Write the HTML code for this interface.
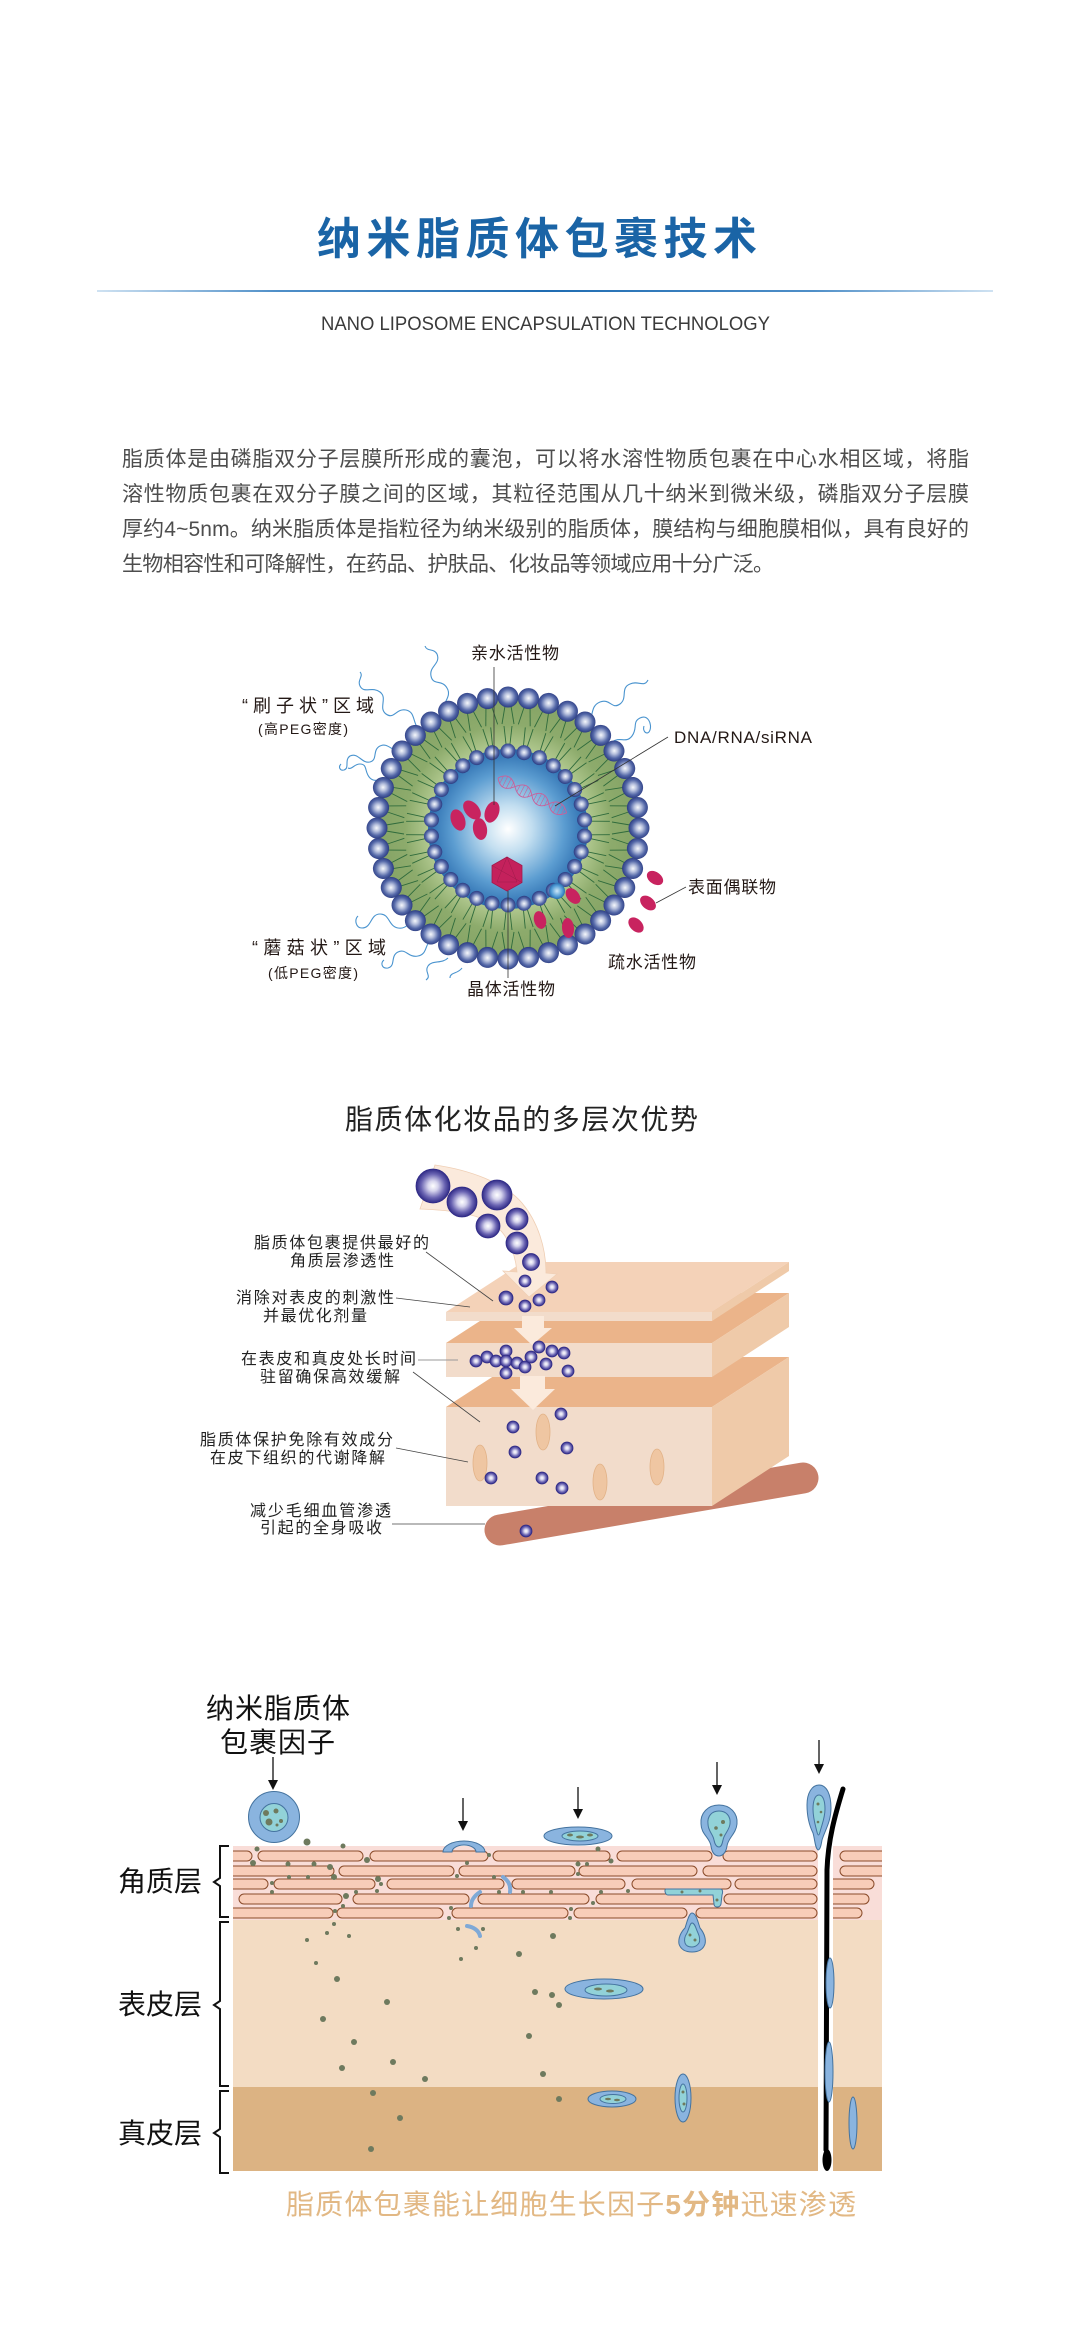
<!DOCTYPE html>
<html><head><meta charset="utf-8">
<style>
html,body{margin:0;padding:0;background:#fff;}
body{width:1080px;height:2350px;overflow:hidden;}
svg{display:block;}
text{font-family:"Liberation Sans","Noto Sans CJK SC",sans-serif;}
</style></head>
<body>
<svg width="1080" height="2350" viewBox="0 0 1080 2350" xmlns="http://www.w3.org/2000/svg">
<defs>
<linearGradient id="hl" x1="0" x2="1" y1="0" y2="0">
<stop offset="0" stop-color="#cfe2f2"/><stop offset="0.2" stop-color="#4f8fc8"/><stop offset="0.5" stop-color="#1f6cb2"/><stop offset="0.8" stop-color="#4f8fc8"/><stop offset="1" stop-color="#cfe2f2"/>
</linearGradient>
<radialGradient id="gb" cx="50%" cy="48%" r="55%"><stop offset="0" stop-color="#f6f8fc"/><stop offset="0.3" stop-color="#b6c0dd"/><stop offset="0.65" stop-color="#5468a8"/><stop offset="1" stop-color="#23337a"/></radialGradient>
<radialGradient id="gcore" cx="50%" cy="50%" r="50%"><stop offset="0" stop-color="#ffffff"/><stop offset="0.3" stop-color="#c2def0"/><stop offset="0.7" stop-color="#5c9dd1"/><stop offset="1" stop-color="#2a6cae"/></radialGradient>
<radialGradient id="ggreen" cx="50%" cy="50%" r="50%"><stop offset="0.6" stop-color="#b5cc93"/><stop offset="0.8" stop-color="#8dab6c"/><stop offset="1" stop-color="#86a466"/></radialGradient>
<radialGradient id="gp" cx="50%" cy="50%" r="50%"><stop offset="0" stop-color="#ffffff"/><stop offset="0.3" stop-color="#d6d4ed"/><stop offset="0.7" stop-color="#6a64b2"/><stop offset="1" stop-color="#2f2a86"/></radialGradient>
<radialGradient id="gsb" cx="50%" cy="50%" r="50%"><stop offset="0" stop-color="#cfe9f8"/><stop offset="0.7" stop-color="#4f9ad4"/><stop offset="1" stop-color="#2a6fae"/></radialGradient>
<g id="ob" stroke="#2f6b3c" stroke-width="0.9"><line x1="505" y1="706" x2="502" y2="724"/><line x1="511" y1="706" x2="514" y2="724"/><circle cx="508" cy="697" r="10.5" fill="url(#gb)" stroke="none"/></g>
<g id="ib" stroke="#2f6b3c" stroke-width="0.9"><line x1="506" y1="744" x2="504" y2="726"/><line x1="510" y1="744" x2="512" y2="726"/><circle cx="508" cy="751" r="7.5" fill="url(#gb)" stroke="none"/></g>
<clipPath id="skinclip"><rect x="233" y="1846" width="649" height="74"/></clipPath>
</defs>

<!-- ===== Section 1 ===== -->
<text x="317" y="254" font-size="44" font-weight="bold" fill="#1a64a6" textLength="440" lengthAdjust="spacing">纳米脂质体包裹技术</text>
<rect x="97" y="290" width="896" height="2" fill="url(#hl)"/>
<text x="321" y="330" font-size="19" fill="#3a3a3a" textLength="449" lengthAdjust="spacingAndGlyphs">NANO LIPOSOME ENCAPSULATION TECHNOLOGY</text>

<g font-size="21" fill="#4d4d4d">
<text x="122" y="466" textLength="847" lengthAdjust="spacing">脂质体是由磷脂双分子层膜所形成的囊泡，可以将水溶性物质包裹在中心水相区域，将脂</text>
<text x="122" y="501" textLength="847" lengthAdjust="spacing">溶性物质包裹在双分子膜之间的区域，其粒径范围从几十纳米到微米级，磷脂双分子层膜</text>
<text x="122" y="536" textLength="847" lengthAdjust="spacing">厚约4~5nm。纳米脂质体是指粒径为纳米级别的脂质体，膜结构与细胞膜相似，具有良好的</text>
<text x="122" y="571" textLength="652" lengthAdjust="spacing">生物相容性和可降解性，在药品、护肤品、化妆品等领域应用十分广泛。</text>
</g>

<!-- ===== Section 2 : liposome ===== -->
<g fill="none" stroke="#4a94cf" stroke-width="1.1">
<path d="M445 714 c-6 -10 8 -16 2 -26 c-5 -9 -14 -2 -16 -12 c-2 -10 10 -12 6 -22 c-3 -6 -10 -2 -12 -8"/>
<path d="M420 730 c-8 -6 -4 -18 -14 -20 c-10 -2 -12 10 -20 4 c-8 -6 2 -16 -6 -22 c-8 -6 -16 2 -20 -6 c-3 -6 4 -10 0 -14"/>
<path d="M402 752 c-10 0 -14 -10 -22 -6 c-8 4 -2 14 -10 16 c-8 2 -12 -10 -20 -6 c-6 4 0 12 -6 14 c-4 1 -6 -3 -3 -6"/>
<path d="M392 780 c-8 -4 -16 4 -22 -2 c-6 -6 -2 -14 -10 -14 c-6 0 -8 6 -12 4"/>
<path d="M588 724 c6 -8 2 -18 12 -22 c10 -4 12 8 20 2 c8 -6 0 -16 10 -20 c8 -4 14 4 18 -4"/>
<path d="M612 742 c8 -6 14 2 20 -6 c6 -8 0 -14 8 -18 c8 -4 12 6 10 12 c-2 6 -8 2 -6 -4"/>
<path d="M420 920 c-10 -2 -12 10 -22 8 c-10 -2 -8 -14 -18 -14 c-10 0 -8 14 -18 14 c-6 0 -8 -8 -4 -12"/>
<path d="M432 940 c-8 4 -4 14 -14 16 c-10 2 -12 -8 -20 -4 c-8 4 -2 14 -10 16 c-6 1 -8 -5 -4 -8"/>
<path d="M448 958 c-6 6 -16 2 -20 8 c-4 6 4 10 -2 14"/>
<path d="M462 968 c-4 6 -12 4 -12 10"/>
</g>

<circle cx="508" cy="828" r="129" fill="url(#ggreen)"/>
<circle cx="508" cy="829" r="80" fill="url(#gcore)"/>

<use href="#ib"/><use href="#ib" transform="rotate(12 508 828)"/><use href="#ib" transform="rotate(24 508 828)"/><use href="#ib" transform="rotate(36 508 828)"/><use href="#ib" transform="rotate(48 508 828)"/><use href="#ib" transform="rotate(60 508 828)"/><use href="#ib" transform="rotate(72 508 828)"/><use href="#ib" transform="rotate(84 508 828)"/><use href="#ib" transform="rotate(96 508 828)"/><use href="#ib" transform="rotate(108 508 828)"/><use href="#ib" transform="rotate(120 508 828)"/><use href="#ib" transform="rotate(132 508 828)"/><use href="#ib" transform="rotate(144 508 828)"/><use href="#ib" transform="rotate(156 508 828)"/><use href="#ib" transform="rotate(168 508 828)"/><use href="#ib" transform="rotate(180 508 828)"/><use href="#ib" transform="rotate(192 508 828)"/><use href="#ib" transform="rotate(204 508 828)"/><use href="#ib" transform="rotate(216 508 828)"/><use href="#ib" transform="rotate(228 508 828)"/><use href="#ib" transform="rotate(240 508 828)"/><use href="#ib" transform="rotate(252 508 828)"/><use href="#ib" transform="rotate(264 508 828)"/><use href="#ib" transform="rotate(276 508 828)"/><use href="#ib" transform="rotate(288 508 828)"/><use href="#ib" transform="rotate(300 508 828)"/><use href="#ib" transform="rotate(312 508 828)"/><use href="#ib" transform="rotate(324 508 828)"/><use href="#ib" transform="rotate(336 508 828)"/><use href="#ib" transform="rotate(348 508 828)"/>

<use href="#ob"/><use href="#ob" transform="rotate(9 508 828)"/><use href="#ob" transform="rotate(18 508 828)"/><use href="#ob" transform="rotate(27 508 828)"/><use href="#ob" transform="rotate(36 508 828)"/><use href="#ob" transform="rotate(45 508 828)"/><use href="#ob" transform="rotate(54 508 828)"/><use href="#ob" transform="rotate(63 508 828)"/><use href="#ob" transform="rotate(72 508 828)"/><use href="#ob" transform="rotate(81 508 828)"/><use href="#ob" transform="rotate(90 508 828)"/><use href="#ob" transform="rotate(99 508 828)"/><use href="#ob" transform="rotate(108 508 828)"/><use href="#ob" transform="rotate(117 508 828)"/><use href="#ob" transform="rotate(126 508 828)"/><use href="#ob" transform="rotate(135 508 828)"/><use href="#ob" transform="rotate(144 508 828)"/><use href="#ob" transform="rotate(153 508 828)"/><use href="#ob" transform="rotate(162 508 828)"/><use href="#ob" transform="rotate(171 508 828)"/><use href="#ob" transform="rotate(180 508 828)"/><use href="#ob" transform="rotate(189 508 828)"/><use href="#ob" transform="rotate(198 508 828)"/><use href="#ob" transform="rotate(207 508 828)"/><use href="#ob" transform="rotate(216 508 828)"/><use href="#ob" transform="rotate(225 508 828)"/><use href="#ob" transform="rotate(234 508 828)"/><use href="#ob" transform="rotate(243 508 828)"/><use href="#ob" transform="rotate(252 508 828)"/><use href="#ob" transform="rotate(261 508 828)"/><use href="#ob" transform="rotate(270 508 828)"/><use href="#ob" transform="rotate(279 508 828)"/><use href="#ob" transform="rotate(288 508 828)"/><use href="#ob" transform="rotate(297 508 828)"/><use href="#ob" transform="rotate(306 508 828)"/><use href="#ob" transform="rotate(315 508 828)"/><use href="#ob" transform="rotate(324 508 828)"/><use href="#ob" transform="rotate(333 508 828)"/><use href="#ob" transform="rotate(342 508 828)"/><use href="#ob" transform="rotate(351 508 828)"/>

<!-- DNA -->
<g transform="translate(498 778) rotate(27)" fill="none" stroke="#c9609a" stroke-width="0.9">
<path d="M0 0 C6 -8 12 -8 19 0 S32 8 38 0 S51 -8 57 0 S70 8 77 0"/>
<path d="M0 0 C6 8 12 8 19 0 S32 -8 38 0 S51 8 57 0 S70 -8 77 0"/>
<path d="M4 -4V4 M8 -6V6 M12 -6V6 M16 -4V4 M23 -4V4 M27 -6V6 M31 -6V6 M35 -4V4 M42 -4V4 M46 -6V6 M50 -6V6 M54 -4V4 M61 -4V4 M65 -6V6 M69 -6V6 M73 -4V4" stroke-width="0.6"/>
</g>
<!-- magenta -->
<g fill="#c8235f">
<ellipse cx="458" cy="820" rx="7" ry="11" transform="rotate(-20 458 820)"/>
<ellipse cx="472" cy="810" rx="7" ry="11" transform="rotate(-40 472 810)"/>
<ellipse cx="480" cy="829" rx="7" ry="11" transform="rotate(-10 480 829)"/>
<ellipse cx="492" cy="812" rx="7" ry="11" transform="rotate(20 492 812)"/>
<ellipse cx="573" cy="896" rx="6" ry="9" transform="rotate(-40 573 896)"/>
<ellipse cx="540" cy="920" rx="6" ry="9" transform="rotate(-15 540 920)"/>
<ellipse cx="568" cy="928" rx="6" ry="10" transform="rotate(-5 568 928)"/>
<ellipse cx="655" cy="878" rx="6" ry="9" transform="rotate(-55 655 878)"/>
<ellipse cx="648" cy="903" rx="6" ry="9" transform="rotate(-50 648 903)"/>
<ellipse cx="636" cy="925" rx="6" ry="9" transform="rotate(-45 636 925)"/>
</g>
<polygon points="507,857 522,865.5 522,882.5 507,891 492,882.5 492,865.5" fill="#c4215c" stroke="#a31a4c" stroke-width="0.8"/>
<path d="M507 857 L497 882 L517 882 Z M492 865.5 L522 882.5" fill="none" stroke="#8f1a45" stroke-width="0.5" opacity="0.7"/>
<circle cx="557" cy="891" r="8" fill="url(#gsb)"/>

<!-- leader lines sec2 -->
<g stroke="#333" stroke-width="0.8" fill="none">
<line x1="494" y1="667" x2="494" y2="805"/>
<line x1="668" y1="737" x2="555" y2="806"/>
<line x1="686" y1="887" x2="656" y2="903"/>
<line x1="508" y1="891" x2="508" y2="978"/>
</g>
<g fill="#231815">
<text x="471" y="659" font-size="17" textLength="88" lengthAdjust="spacing">亲水活性物</text>
<text x="242" y="712" font-size="18" textLength="132" lengthAdjust="spacing">“刷子状”区域</text>
<text x="258" y="734" font-size="14" textLength="90" lengthAdjust="spacing">(高PEG密度)</text>
<text x="674" y="743" font-size="17" textLength="138" lengthAdjust="spacing">DNA/RNA/siRNA</text>
<text x="688" y="893" font-size="17" textLength="88" lengthAdjust="spacing">表面偶联物</text>
<text x="608" y="968" font-size="17" textLength="88" lengthAdjust="spacing">疏水活性物</text>
<text x="467" y="995" font-size="17" textLength="88" lengthAdjust="spacing">晶体活性物</text>
<text x="252" y="954" font-size="18" textLength="134" lengthAdjust="spacing">“蘑菇状”区域</text>
<text x="268" y="978" font-size="14" textLength="90" lengthAdjust="spacing">(低PEG密度)</text>
</g>

<!-- ===== Section 3 ===== -->
<text x="345" y="1129" font-size="28" fill="#222" textLength="353" lengthAdjust="spacing">脂质体化妆品的多层次优势</text>

<!-- vessel -->
<line x1="500" y1="1530" x2="803" y2="1478" stroke="#c8806a" stroke-width="31" stroke-linecap="round"/>
<!-- bottom block -->
<polygon points="446,1407 712,1407 789,1357 523,1357" fill="#ebb48a"/>
<polygon points="712,1407 789,1357 789,1456 712,1506" fill="#efcaa9"/>
<rect x="446" y="1407" width="266" height="99" fill="#f2dccb"/>
<g fill="#efc6a2" stroke="#e2b287" stroke-width="0.8">
<ellipse cx="480" cy="1463" rx="7" ry="18"/>
<ellipse cx="543" cy="1432" rx="7" ry="18"/>
<ellipse cx="600" cy="1482" rx="7" ry="18"/>
<ellipse cx="657" cy="1467" rx="7" ry="18"/>
</g>
<!-- middle slab -->
<polygon points="446,1343 712,1343 789,1293 523,1293" fill="#ebb48a"/>
<polygon points="712,1343 789,1293 789,1327 712,1377" fill="#efcaa9"/>
<rect x="446" y="1343" width="266" height="34" fill="#f2dccb"/>
<!-- top slab -->
<polygon points="446,1312 712,1312 789,1262 523,1262" fill="#f4d2b8"/>
<polygon points="712,1312 789,1262 789,1271 712,1321" fill="#efcaa9"/>
<rect x="446" y="1312" width="266" height="9" fill="#f2dccb"/>
<!-- arrows -->
<path d="M435 1165 C470 1170 505 1183 522 1203 C538 1222 546 1248 546 1273 L557 1274 L529 1297 L503 1271 L517 1272 C515 1250 505 1230 490 1222 C470 1212 445 1210 420 1209 Z" fill="#fbeadc" stroke="#efcfb5" stroke-width="0.8"/>
<polygon points="522,1316 544,1316 544,1328 552,1328 532,1345 514,1328 522,1328" fill="#fbeadc"/>
<polygon points="520,1376 545,1376 545,1389 555,1389 533,1410 511,1389 520,1389" fill="#fbeadc"/>
<!-- beads -->
<g fill="url(#gp)" stroke="#2f2a86" stroke-width="0.8">
<circle cx="433" cy="1186" r="17"/><circle cx="462" cy="1202" r="15"/><circle cx="497" cy="1195" r="15"/>
<circle cx="488" cy="1226" r="12"/><circle cx="517" cy="1219" r="11"/><circle cx="517" cy="1243" r="11"/><circle cx="531" cy="1262" r="8.5"/>
<circle cx="525" cy="1281" r="6"/><circle cx="552" cy="1287" r="6"/><circle cx="506" cy="1298" r="7"/><circle cx="525" cy="1306" r="6"/><circle cx="539" cy="1300" r="6"/>
<circle cx="476" cy="1361" r="6"/><circle cx="487" cy="1357" r="6"/><circle cx="496" cy="1361" r="6"/><circle cx="506" cy="1351" r="6"/><circle cx="506" cy="1361" r="6"/><circle cx="517" cy="1363" r="6"/><circle cx="525" cy="1367" r="6"/><circle cx="531" cy="1357" r="6"/><circle cx="539" cy="1347" r="6"/><circle cx="552" cy="1351" r="6"/><circle cx="564" cy="1353" r="6"/><circle cx="546" cy="1364" r="6"/><circle cx="568" cy="1371" r="6"/><circle cx="506" cy="1373" r="6"/>
<circle cx="561" cy="1414" r="6"/><circle cx="513" cy="1427" r="6"/><circle cx="515" cy="1452" r="6"/><circle cx="567" cy="1448" r="6"/><circle cx="491" cy="1478" r="6"/><circle cx="542" cy="1478" r="6"/><circle cx="562" cy="1488" r="6"/>
<circle cx="526" cy="1531" r="6"/>
</g>
<g stroke="#444" stroke-width="0.8" fill="none">
<line x1="426" y1="1252" x2="493" y2="1301"/>
<line x1="396" y1="1298" x2="470" y2="1307"/>
<line x1="418" y1="1360" x2="458" y2="1360" stroke="#999" stroke-width="1"/>
<line x1="413" y1="1372" x2="480" y2="1422"/>
<line x1="396" y1="1448" x2="468" y2="1462"/>
<line x1="392" y1="1524" x2="485" y2="1524"/>
</g>
<g font-size="16" fill="#222">
<text x="254" y="1248" textLength="175" lengthAdjust="spacing">脂质体包裹提供最好的</text>
<text x="290" y="1266" textLength="104" lengthAdjust="spacing">角质层渗透性</text>
<text x="236" y="1303" textLength="158" lengthAdjust="spacing">消除对表皮的刺激性</text>
<text x="263" y="1321" textLength="104" lengthAdjust="spacing">并最优化剂量</text>
<text x="241" y="1364" textLength="175" lengthAdjust="spacing">在表皮和真皮处长时间</text>
<text x="260" y="1382" textLength="140" lengthAdjust="spacing">驻留确保高效缓解</text>
<text x="200" y="1445" textLength="193" lengthAdjust="spacing">脂质体保护免除有效成分</text>
<text x="210" y="1463" textLength="175" lengthAdjust="spacing">在皮下组织的代谢降解</text>
<text x="250" y="1516" textLength="141" lengthAdjust="spacing">减少毛细血管渗透</text>
<text x="260" y="1533" textLength="122" lengthAdjust="spacing">引起的全身吸收</text>
</g>

<!-- ===== Section 4 : skin ===== -->
<g fill="#111">
<text x="206" y="1718" font-size="28" textLength="144" lengthAdjust="spacing">纳米脂质体</text>
<text x="220" y="1752" font-size="28" textLength="115" lengthAdjust="spacing">包裹因子</text>
<text x="118" y="1891" font-size="28" textLength="84" lengthAdjust="spacing">角质层</text>
<text x="118" y="2014" font-size="28" textLength="84" lengthAdjust="spacing">表皮层</text>
<text x="118" y="2143" font-size="28" textLength="84" lengthAdjust="spacing">真皮层</text>
</g>
<g fill="none" stroke="#111" stroke-width="2">
<path d="M229 1846 H220 V1878 L214 1882 L220 1886 V1917 H229"/>
<path d="M229 1922 H220 V2001 L214 2005 L220 2009 V2086 H229"/>
<path d="M229 2091 H220 V2129 L214 2133 L220 2137 V2173 H229"/>
</g>

<rect x="233" y="1846" width="649" height="74" fill="#f9ddd8"/>
<rect x="233" y="1920" width="649" height="167" fill="#f3dcc3"/>
<rect x="233" y="2087" width="649" height="84" fill="#dcb383"/>

<g clip-path="url(#skinclip)" fill="#f8cdb9" stroke="#8a4b2a" stroke-width="1">
<rect x="220" y="1851" width="32" height="10" rx="5"/><rect x="258" y="1851" width="105" height="10" rx="5"/><rect x="370" y="1851" width="118" height="10" rx="5"/><rect x="493" y="1851" width="117" height="10" rx="5"/><rect x="617" y="1851" width="95" height="10" rx="5"/><rect x="723" y="1851" width="94" height="10" rx="5"/><rect x="840" y="1851" width="60" height="10" rx="5"/>
<rect x="220" y="1866" width="114" height="10" rx="5"/><rect x="339" y="1866" width="115" height="10" rx="5"/><rect x="459" y="1866" width="116" height="10" rx="5"/><rect x="579" y="1866" width="118" height="10" rx="5"/><rect x="703" y="1866" width="114" height="10" rx="5"/><rect x="840" y="1866" width="60" height="10" rx="5"/>
<rect x="220" y="1879" width="48" height="10" rx="5"/><rect x="274" y="1879" width="101" height="10" rx="5"/><rect x="387" y="1879" width="117" height="10" rx="5"/><rect x="512" y="1879" width="113" height="10" rx="5"/><rect x="632" y="1879" width="99" height="10" rx="5"/><rect x="735" y="1879" width="82" height="10" rx="5"/><rect x="826" y="1879" width="48" height="10" rx="5"/>
<rect x="239" y="1894" width="103" height="10" rx="5"/><rect x="353" y="1894" width="116" height="10" rx="5"/><rect x="478" y="1894" width="111" height="10" rx="5"/><rect x="596" y="1894" width="124" height="10" rx="5"/><rect x="724" y="1894" width="93" height="10" rx="5"/><rect x="826" y="1894" width="43" height="10" rx="5"/>
<rect x="220" y="1908" width="113" height="10" rx="5"/><rect x="337" y="1908" width="106" height="10" rx="5"/><rect x="452" y="1908" width="116" height="10" rx="5"/><rect x="574" y="1908" width="113" height="10" rx="5"/><rect x="696" y="1908" width="121" height="10" rx="5"/><rect x="826" y="1908" width="36" height="10" rx="5"/>
</g>

<!-- dots -->
<g fill="#6e7a5e">
<circle cx="307" cy="1842" r="3.5"/><circle cx="343" cy="1846" r="2.5"/><circle cx="257" cy="1849" r="2.5"/><circle cx="253" cy="1863" r="3"/><circle cx="288" cy="1864" r="2.5"/><circle cx="314" cy="1864" r="2.5"/><circle cx="330" cy="1867" r="3"/><circle cx="367" cy="1860" r="3"/><circle cx="289" cy="1877" r="2"/><circle cx="308" cy="1877" r="2"/><circle cx="334" cy="1877" r="3"/><circle cx="378" cy="1879" r="3"/><circle cx="381" cy="1884" r="2"/><circle cx="272" cy="1883" r="2"/><circle cx="272" cy="1892" r="2"/><circle cx="346" cy="1896" r="3"/><circle cx="356" cy="1892" r="2"/><circle cx="377" cy="1891" r="2"/><circle cx="343" cy="1906" r="2"/><circle cx="335" cy="1911" r="2"/><circle cx="334" cy="1924" r="2"/><circle cx="327" cy="1933" r="2"/><circle cx="349" cy="1936" r="2"/><circle cx="307" cy="1940" r="2"/><circle cx="316" cy="1963" r="2"/>
<circle cx="467" cy="1863" r="2"/><circle cx="489" cy="1855" r="2"/><circle cx="457" cy="1876" r="2"/><circle cx="494" cy="1877" r="2"/><circle cx="499" cy="1892" r="2"/><circle cx="523" cy="1892" r="2"/><circle cx="551" cy="1892" r="2"/><circle cx="578" cy="1864" r="2.5"/><circle cx="587" cy="1864" r="2"/><circle cx="598" cy="1849" r="2.5"/><circle cx="611" cy="1861" r="2.5"/><circle cx="578" cy="1874" r="2"/><circle cx="593" cy="1903" r="2"/><circle cx="601" cy="1892" r="2"/><circle cx="628" cy="1891" r="2"/><circle cx="571" cy="1909" r="2"/><circle cx="570" cy="1918" r="2"/><circle cx="451" cy="1908" r="2"/><circle cx="449" cy="1918" r="2"/><circle cx="458" cy="1929" r="2"/><circle cx="483" cy="1929" r="2"/><circle cx="476" cy="1948" r="2"/><circle cx="461" cy="1959" r="2"/><circle cx="553" cy="1936" r="3"/><circle cx="519" cy="1954" r="3"/>
<circle cx="337" cy="1979" r="3"/><circle cx="387" cy="2002" r="3"/><circle cx="323" cy="2019" r="3"/><circle cx="354" cy="2042" r="3"/><circle cx="393" cy="2062" r="3"/><circle cx="342" cy="2068" r="3"/><circle cx="425" cy="2079" r="3"/><circle cx="373" cy="2093" r="3"/><circle cx="400" cy="2118" r="3"/><circle cx="371" cy="2149" r="3"/>
<circle cx="535" cy="1992" r="3"/><circle cx="552" cy="1995" r="3"/><circle cx="559" cy="2005" r="3"/><circle cx="529" cy="2036" r="3"/><circle cx="543" cy="2074" r="3"/><circle cx="559" cy="2099" r="3"/>
</g>

<!-- white strip + hair -->
<rect x="818" y="1846" width="15" height="325" fill="#fff"/>
<path d="M843 1789 C835 1815 828 1840 827 1870 L826 2150" fill="none" stroke="#000" stroke-width="5" stroke-linecap="round"/>
<ellipse cx="827" cy="2160" rx="4.5" ry="11" fill="#000"/>

<!-- liposomes -->
<g stroke="#44739f" stroke-width="1">
<circle cx="274" cy="1817" r="25.5" fill="#8ab4df"/>
<circle cx="274" cy="1817.5" r="14" fill="#92d2d8"/>
<path d="M443 1852 A21 11 0 0 1 485 1852 L476 1852 A12 7 0 0 0 452 1852 Z" fill="#8ab4df"/>
<ellipse cx="578" cy="1836" rx="34" ry="9" fill="#8ab4df"/>
<ellipse cx="580" cy="1836" rx="18" ry="5" fill="#92d2d8"/>
<path d="M719 1805 C730 1805 738 1813 737 1824 C736 1834 728 1838 727 1846 C726 1853 722 1856 719 1856 C715 1856 712 1853 711 1846 C710 1838 701 1834 701 1824 C700 1813 708 1805 719 1805 Z" fill="#8ab4df"/>
<path d="M719 1811 C726 1811 731 1816 730 1824 C729 1831 724 1834 723 1840 C722 1845 721 1847 719 1847 C717 1847 715 1845 714 1840 C713 1834 708 1831 708 1824 C707 1816 712 1811 719 1811 Z" fill="#92d2d8"/>
<path d="M819 1785 C827 1785 831 1795 831 1808 C831 1822 825 1830 822 1840 C821 1846 820 1850 818 1850 C815 1848 815 1840 813 1833 C809 1825 807 1815 807 1805 C807 1793 812 1785 819 1785 Z" fill="#8ab4df"/>
<path d="M819 1795 C823 1795 825 1801 825 1809 C825 1818 822 1824 820 1832 C819 1836 818 1836 817 1832 C815 1824 813 1818 813 1809 C813 1801 815 1795 819 1795 Z" fill="#92d2d8"/>
<path d="M666 1889 H720 C723 1889 723 1892 722 1895 L721 1904 C720 1908 714 1908 714 1904 L713 1895 H668 C665 1895 664 1889 666 1889 Z" fill="#92d2d8"/>
<path d="M692 1913 C696 1913 698 1922 700 1928 C705 1934 706 1940 705 1944 C703 1950 698 1952 692 1952 C686 1952 681 1950 679 1944 C678 1938 681 1932 685 1928 C687 1922 689 1913 692 1913 Z" fill="#8ab4df"/>
<path d="M692 1923 C695 1923 696 1929 698 1933 C700 1937 700 1941 699 1943 C697 1946 695 1947 692 1947 C689 1947 686 1946 685 1943 C684 1940 685 1936 687 1933 C689 1929 690 1923 692 1923 Z" fill="#92d2d8"/>
<ellipse cx="604" cy="1989" rx="39" ry="10" fill="#8ab4df"/>
<ellipse cx="606" cy="1990" rx="21" ry="6" fill="#92d2d8"/>
<ellipse cx="612" cy="2099" rx="24" ry="8" fill="#8ab4df"/>
<ellipse cx="613" cy="2099" rx="13" ry="4.5" fill="#92d2d8"/>
<ellipse cx="683" cy="2098" rx="8" ry="24" fill="#8ab4df"/>
<ellipse cx="683" cy="2098" rx="4" ry="14" fill="#92d2d8"/>
<ellipse cx="830" cy="1983" rx="4" ry="25" fill="#8ab4df"/>
<ellipse cx="829" cy="2072" rx="4" ry="30" fill="#8ab4df"/>
<ellipse cx="853" cy="2123" rx="4" ry="26" fill="#8ab4df"/>
</g>
<g fill="none" stroke="#7fa9d6" stroke-width="4" stroke-linecap="round">
<path d="M503 1877 C509 1881 511 1886 510 1892"/>
<path d="M480 1892 C474 1896 471 1901 471 1906"/>
<path d="M467 1926 C474 1927 479 1931 480 1936"/>
</g>
<g fill="#6e7a5e">
<circle cx="266" cy="1813" r="3"/><circle cx="276" cy="1811" r="2.5"/><circle cx="269" cy="1822" r="3.5"/><circle cx="281" cy="1821" r="2"/><circle cx="277" cy="1825" r="1.5"/>
<ellipse cx="570" cy="1835" rx="3" ry="1.5"/><ellipse cx="580" cy="1837" rx="4" ry="1.5"/><ellipse cx="590" cy="1835" rx="3" ry="1.5"/>
<circle cx="716" cy="1828" r="1.8"/><circle cx="723" cy="1822" r="2"/><circle cx="721" cy="1835" r="1.5"/>
<circle cx="818" cy="1804" r="1.5"/><circle cx="821" cy="1812" r="1.3"/><circle cx="818" cy="1822" r="1.3"/>
<circle cx="682" cy="1892" r="1.5"/><circle cx="700" cy="1891" r="1.5"/><circle cx="717" cy="1900" r="1.5"/>
<circle cx="690" cy="1935" r="1.5"/><circle cx="695" cy="1940" r="1.5"/>
<ellipse cx="598" cy="1989" rx="4" ry="1.5"/><ellipse cx="610" cy="1991" rx="4" ry="1.5"/>
<ellipse cx="608" cy="2099" rx="3" ry="1.3"/><ellipse cx="617" cy="2100" rx="3" ry="1.3"/>
<circle cx="683" cy="2092" r="1.5"/><circle cx="684" cy="2104" r="1.5"/>
</g>

<!-- arrows sec4 -->
<g stroke="#111" stroke-width="1.3">
<line x1="273" y1="1757" x2="273" y2="1782"/>
<line x1="463" y1="1798" x2="463" y2="1823"/>
<line x1="578" y1="1787" x2="578" y2="1811"/>
<line x1="717" y1="1762" x2="717" y2="1787"/>
<line x1="819" y1="1740" x2="819" y2="1766"/>
</g>
<g fill="#111">
<polygon points="268,1780 278,1780 273,1790"/>
<polygon points="458,1821 468,1821 463,1831"/>
<polygon points="573,1809 583,1809 578,1819"/>
<polygon points="712,1785 722,1785 717,1795"/>
<polygon points="814,1764 824,1764 819,1774"/>
</g>

<text x="286" y="2214" font-size="28" fill="#e2b884" textLength="570" lengthAdjust="spacing">脂质体包裹能让细胞生长因子<tspan font-weight="bold">5分钟</tspan>迅速渗透</text>
</svg>
</body></html>
